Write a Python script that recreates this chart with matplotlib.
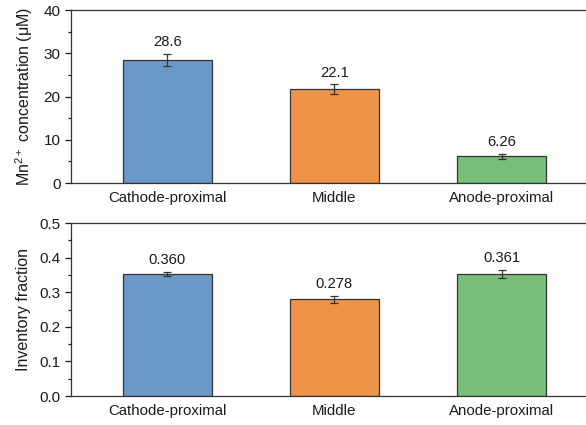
import numpy as np
import matplotlib.pyplot as plt

plt.rcParams['font.family'] = ['Liberation Sans', 'DejaVu Sans']
plt.rcParams['mathtext.fontset'] = 'custom'
plt.rcParams['mathtext.rm'] = 'Liberation Sans'

regions = ['Cathode-proximal', 'Middle', 'Anode-proximal']
colors = ['#6c98c8', '#ee9449', '#78bd78']

# top panel: Mn2+ concentration
mn_conc = [28.4, 21.7, 6.15]
mn_err = [1.4, 1.1, 0.5]
mn_labels = ['28.6', '22.1', '6.26']

# bottom panel: inventory fraction
inv_frac = [0.352, 0.279, 0.353]
inv_err = [0.006, 0.011, 0.011]
inv_labels = ['0.360', '0.278', '0.361']

fig = plt.figure(figsize=(5.86, 4.25), dpi=100)
ax1 = fig.add_axes([0.1212, 0.5694, 0.899, 0.407])
ax2 = fig.add_axes([0.1212, 0.0682, 0.899, 0.407])

x = np.arange(len(regions))


def draw_panel(ax, vals, errs, labels, ylim, major, ylabel):
    ax.bar(x, vals, width=0.53, color=colors, edgecolor='#333333', linewidth=0.9, zorder=2)
    ax.errorbar(x, vals, yerr=errs, fmt='none', ecolor='#333333', elinewidth=0.9,
                capsize=3, capthick=0.9, zorder=3)
    for xi, v, e, lab in zip(x, vals, errs, labels):
        ax.annotate(lab, (xi, v + e), xytext=(0, 3.5), textcoords='offset points',
                    ha='center', va='bottom', fontsize=10.6, color='#1a1a1a')
    ax.set_xlim(-0.575, 2.575)
    ax.set_ylim(*ylim)
    ax.set_yticks(np.arange(ylim[0], ylim[1] + major / 2, major))
    ax.set_yticks(np.arange(ylim[0], ylim[1], major / 2), minor=True)
    ax.set_xticks(x)
    ax.set_xticklabels(regions, fontsize=10.8)
    ax.tick_params(axis='x', length=0, pad=6, colors='#1a1a1a')
    ax.tick_params(axis='y', which='major', direction='out', length=4, width=0.9,
                   labelsize=11, colors='#1a1a1a')
    ax.tick_params(axis='y', which='minor', direction='out', length=2.5, width=0.9,
                   colors='#1a1a1a')
    for sp in ax.spines.values():
        sp.set_color('#333333')
        sp.set_linewidth(0.9)
    ax.set_ylabel(ylabel, fontsize=11.5, color='#1a1a1a', labelpad=6)


draw_panel(ax1, mn_conc, mn_err, mn_labels, (0, 40), 10,
           'Mn$^{2+}$ concentration (μM)')
draw_panel(ax2, inv_frac, inv_err, inv_labels, (0, 0.5), 0.1, 'Inventory fraction')
ax1.yaxis.set_major_formatter(plt.FormatStrFormatter('%d'))
ax2.yaxis.set_major_formatter(plt.FormatStrFormatter('%.1f'))

fig.savefig('out.png', dpi=100)
